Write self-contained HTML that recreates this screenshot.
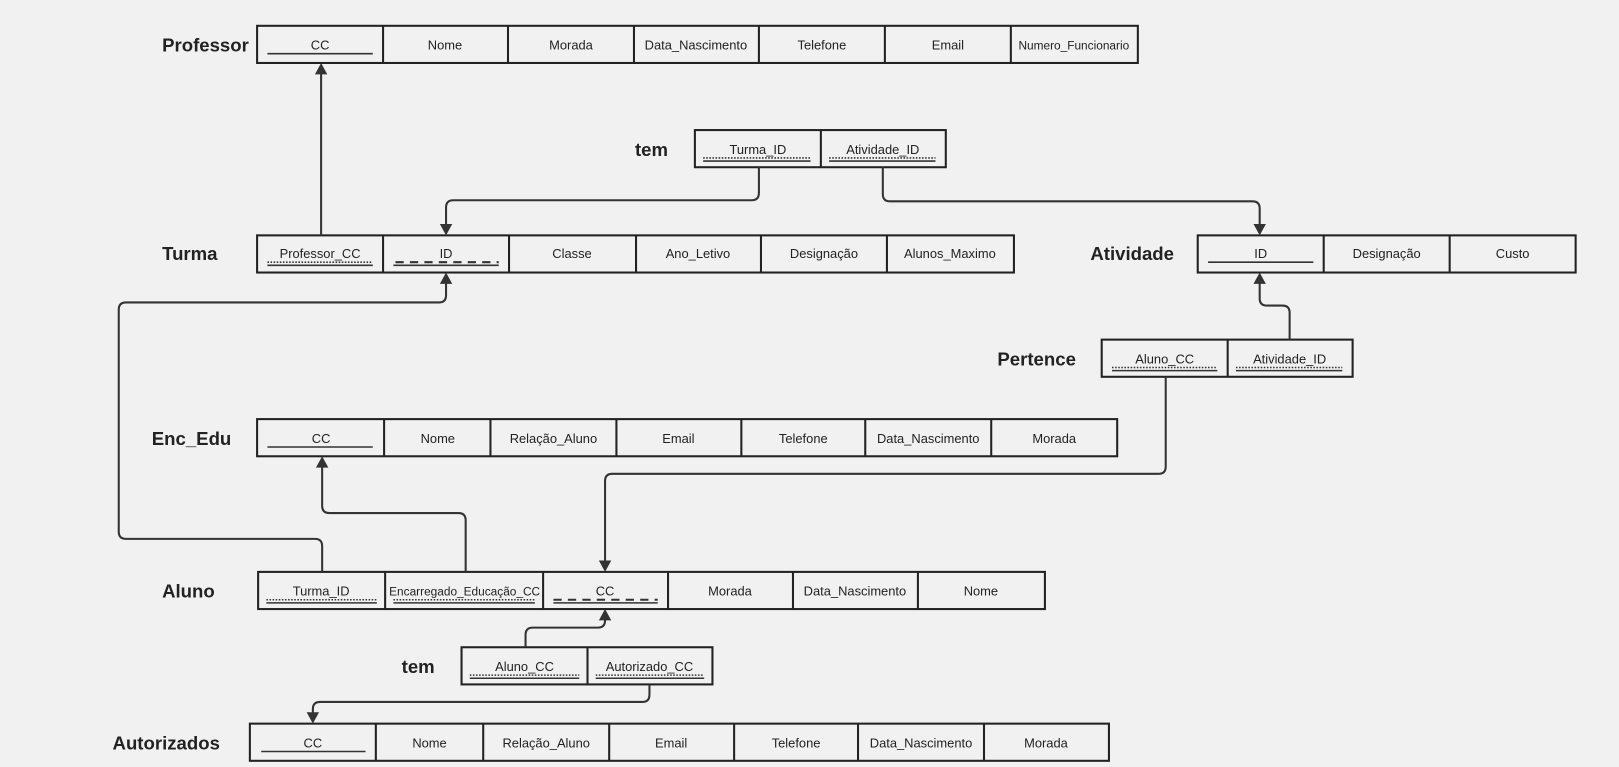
<!DOCTYPE html>
<html><head><meta charset="utf-8"><style>
html,body{margin:0;padding:0;background:#f1f1f1;}
svg{display:block;}
text{font-family:"Liberation Sans",sans-serif;}
.c{font-size:12.5px;fill:#222;text-anchor:middle;}
.l{font-size:18px;font-weight:bold;fill:#222;}
.b{fill:none;stroke:#222;stroke-width:2;}
.k{stroke:#333;stroke-width:1.5;}
.d{stroke:#333;stroke-width:1.5;stroke-dasharray:1.5 1.5;}
.ds{stroke:#333;stroke-width:2;stroke-dasharray:8 6;}
.a{fill:none;stroke:#333;stroke-width:2;}
.h{fill:#333;}
</style></head><body>
<svg width="1619" height="767" viewBox="0 0 1568 743" preserveAspectRatio="none">
<text class="l" x="157" y="50">Professor</text>
<text class="l" x="615" y="151">tem</text>
<text class="l" x="157" y="252">Turma</text>
<text class="l" x="1056" y="252">Atividade</text>
<text class="l" x="966" y="354">Pertence</text>
<text class="l" x="147" y="431">Enc_Edu</text>
<text class="l" x="157" y="579">Aluno</text>
<text class="l" x="389" y="652">tem</text>
<text class="l" x="109" y="726">Autorizados</text>

<rect class="b" x="249" y="25" width="853" height="36"/>
<path class="b" d="M371 25V61M492 25V61M614 25V61M735 25V61M857 25V61M979 25V61"/>
<text class="c" x="310" y="48">CC</text><line class="k" x1="259" y1="52" x2="361" y2="52"/>
<text class="c" x="431" y="48">Nome</text>
<text class="c" x="553" y="48">Morada</text>
<text class="c" x="674" y="48">Data_Nascimento</text>
<text class="c" x="796" y="48">Telefone</text>
<text class="c" x="918" y="48">Email</text>
<text class="c" x="1040" y="48" style="font-size:11.5px">Numero_Funcionario</text>

<rect class="b" x="673" y="126" width="243" height="36"/>
<path class="b" d="M795 126V162"/>
<text class="c" x="734" y="149">Turma_ID</text>
<line class="d" x1="681" y1="153" x2="785" y2="153"/><line class="k" x1="681" y1="156" x2="785" y2="156"/>
<text class="c" x="855" y="149">Atividade_ID</text>
<line class="d" x1="803" y1="153" x2="906" y2="153"/><line class="k" x1="803" y1="156" x2="906" y2="156"/>

<rect class="b" x="249" y="228" width="733" height="36"/>
<path class="b" d="M371 228V264M493 228V264M616 228V264M737 228V264M859 228V264"/>
<text class="c" x="310" y="250">Professor_CC</text>
<line class="d" x1="259" y1="254" x2="361" y2="254"/><line class="k" x1="259" y1="257" x2="361" y2="257"/>
<text class="c" x="432" y="250">ID</text>
<line class="ds" x1="383" y1="254" x2="483" y2="254"/><line class="k" x1="381" y1="257" x2="483" y2="257"/>
<text class="c" x="554" y="250">Classe</text>
<text class="c" x="676" y="250">Ano_Letivo</text>
<text class="c" x="798" y="250">Designação</text>
<text class="c" x="920" y="250">Alunos_Maximo</text>

<rect class="b" x="1160" y="228" width="366" height="36"/>
<path class="b" d="M1282 228V264M1404 228V264"/>
<text class="c" x="1221" y="250">ID</text><line class="k" x1="1170" y1="254" x2="1272" y2="254"/>
<text class="c" x="1343" y="250">Designação</text>
<text class="c" x="1465" y="250">Custo</text>

<rect class="b" x="1067" y="329" width="243" height="36"/>
<path class="b" d="M1189 329V365"/>
<text class="c" x="1128" y="352">Aluno_CC</text>
<line class="d" x1="1077" y1="356" x2="1179" y2="356"/><line class="k" x1="1077" y1="359" x2="1179" y2="359"/>
<text class="c" x="1249" y="352">Atividade_ID</text>
<line class="d" x1="1197" y1="356" x2="1300" y2="356"/><line class="k" x1="1197" y1="359" x2="1300" y2="359"/>

<rect class="b" x="249" y="406" width="833" height="36"/>
<path class="b" d="M372 406V442M475 406V442M597 406V442M718 406V442M838 406V442M960 406V442"/>
<text class="c" x="311" y="429">CC</text><line class="k" x1="259" y1="433" x2="361" y2="433"/>
<text class="c" x="424" y="429">Nome</text>
<text class="c" x="536" y="429">Relação_Aluno</text>
<text class="c" x="657" y="429">Email</text>
<text class="c" x="778" y="429">Telefone</text>
<text class="c" x="899" y="429">Data_Nascimento</text>
<text class="c" x="1021" y="429">Morada</text>

<rect class="b" x="250" y="554" width="762" height="36"/>
<path class="b" d="M373 554V590M526 554V590M647 554V590M768 554V590M889 554V590"/>
<text class="c" x="311" y="577">Turma_ID</text>
<line class="d" x1="258" y1="581" x2="365" y2="581"/><line class="k" x1="258" y1="584" x2="365" y2="584"/>
<text class="c" x="450" y="577" style="font-size:11.5px">Encarregado_Educação_CC</text>
<line class="d" x1="381" y1="581" x2="518" y2="581"/><line class="k" x1="381" y1="584" x2="518" y2="584"/>
<text class="c" x="586" y="577">CC</text>
<line class="ds" x1="536" y1="581" x2="637" y2="581"/><line class="k" x1="536" y1="584" x2="637" y2="584"/>
<text class="c" x="707" y="577">Morada</text>
<text class="c" x="828" y="577">Data_Nascimento</text>
<text class="c" x="950" y="577">Nome</text>

<rect class="b" x="447" y="627" width="243" height="36"/>
<path class="b" d="M569 627V663"/>
<text class="c" x="508" y="650">Aluno_CC</text>
<line class="d" x1="455" y1="654" x2="561" y2="654"/><line class="k" x1="455" y1="657" x2="561" y2="657"/>
<text class="c" x="629" y="650">Autorizado_CC</text>
<line class="d" x1="577" y1="654" x2="682" y2="654"/><line class="k" x1="577" y1="657" x2="682" y2="657"/>

<rect class="b" x="242" y="701" width="832" height="36"/>
<path class="b" d="M364 701V737M468 701V737M590 701V737M711 701V737M831 701V737M953 701V737"/>
<text class="c" x="303" y="724">CC</text><line class="k" x1="253" y1="728" x2="354" y2="728"/>
<text class="c" x="416" y="724">Nome</text>
<text class="c" x="529" y="724">Relação_Aluno</text>
<text class="c" x="650" y="724">Email</text>
<text class="c" x="771" y="724">Telefone</text>
<text class="c" x="892" y="724">Data_Nascimento</text>
<text class="c" x="1013" y="724">Morada</text>

<path class="a" d="M311 228V68"/><path class="h" d="M311 61l-6 11h12z"/>
<path class="a" d="M735 162V187q0 7-7 7H439q-7 0-7 7V221"/><path class="h" d="M432 228l-6-11h12z"/>
<path class="a" d="M855 162V188q0 7 7 7H1213q7 0 7 7V221"/><path class="h" d="M1220 228l-6-11h12z"/>
<path class="a" d="M1249 329V303q0-7-7-7H1227q-7 0-7-7V271"/><path class="h" d="M1220 264l-6 11h12z"/>
<path class="a" d="M1129 365V452q0 7-7 7H593q-7 0-7 7V547"/><path class="h" d="M586 554l-6-11h12z"/>
<path class="a" d="M312 554V529q0-7-7-7H122q-7 0-7-7V300q0-7 7-7H425q7 0 7-7V271"/><path class="h" d="M432 264l-6 11h12z"/>
<path class="a" d="M451 554V504q0-7-7-7H319q-7 0-7-7V449"/><path class="h" d="M312 442l-6 11h12z"/>
<path class="a" d="M509 627V615q0-7 7-7H579q7 0 7-7V597"/><path class="h" d="M586 590l-6 11h12z"/>
<path class="a" d="M629 663V673q0 7-7 7H310q-7 0-7 7V694"/><path class="h" d="M303 701l-6-11h12z"/>
</svg>
</body></html>
